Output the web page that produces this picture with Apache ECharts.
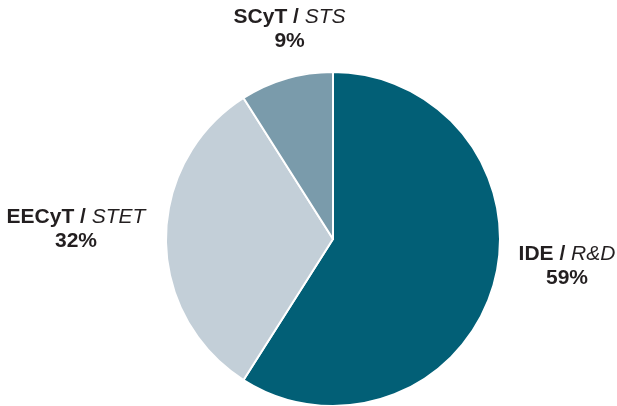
<!DOCTYPE html>
<html>
<head>
<meta charset="utf-8">
<script src="https://cdn.jsdelivr.net/npm/echarts@6/dist/echarts.min.js"></script>
<style>
  html, body { margin: 0; padding: 0; background: #fff; }
  #chart { width: 617px; height: 406px; }
</style>
</head>
<body>
<div id="chart"></div>
<script>
const categories = ['IDE', 'EECyT', 'SCyT'];
const categoriesEn = ['R&D', 'STET', 'STS'];
const shares = [59, 32, 9];
const sliceColors = ['#025f76', '#c3cfd8', '#7a9bab'];
// label nudges from the default outside anchor
const labelShift = [[59, -22], [-75, -10], [11, -40]];

const chart = echarts.init(document.getElementById('chart'));

const font = 'Liberation Sans, Arial, sans-serif';

const option = {
  animation: false,
  series: [
    {
      type: 'pie',
      center: [333, 239],
      radius: 167,
      startAngle: 90,
      clockwise: true,
      avoidLabelOverlap: false,
      itemStyle: {
        borderColor: '#fff',
        borderWidth: 2
      },
      labelLine: { show: false, length: 10, length2: 0 },
      label: {
        show: true,
        position: 'outside',
        color: '#231f20',
        fontFamily: font,
        fontSize: 21,
        lineHeight: 24,
        formatter: p => '{b|' + p.name + ' / }{i|' + categoriesEn[p.dataIndex] + '}\n{b|' + p.value + '%}',
        rich: {
          b: { fontWeight: 'bold', fontSize: 21, lineHeight: 24, color: '#231f20', fontFamily: font },
          i: { fontStyle: 'italic', fontWeight: 'normal', fontSize: 21, lineHeight: 24, color: '#231f20', fontFamily: font }
        }
      },
      labelLayout: p => ({
        align: 'center',
        dx: labelShift[p.dataIndex][0],
        dy: labelShift[p.dataIndex][1]
      }),
      data: categories.map((c, i) => ({
        name: c,
        value: shares[i],
        itemStyle: { color: sliceColors[i] }
      }))
    }
  ]
};

chart.setOption(option);
</script>
</body>
</html>
